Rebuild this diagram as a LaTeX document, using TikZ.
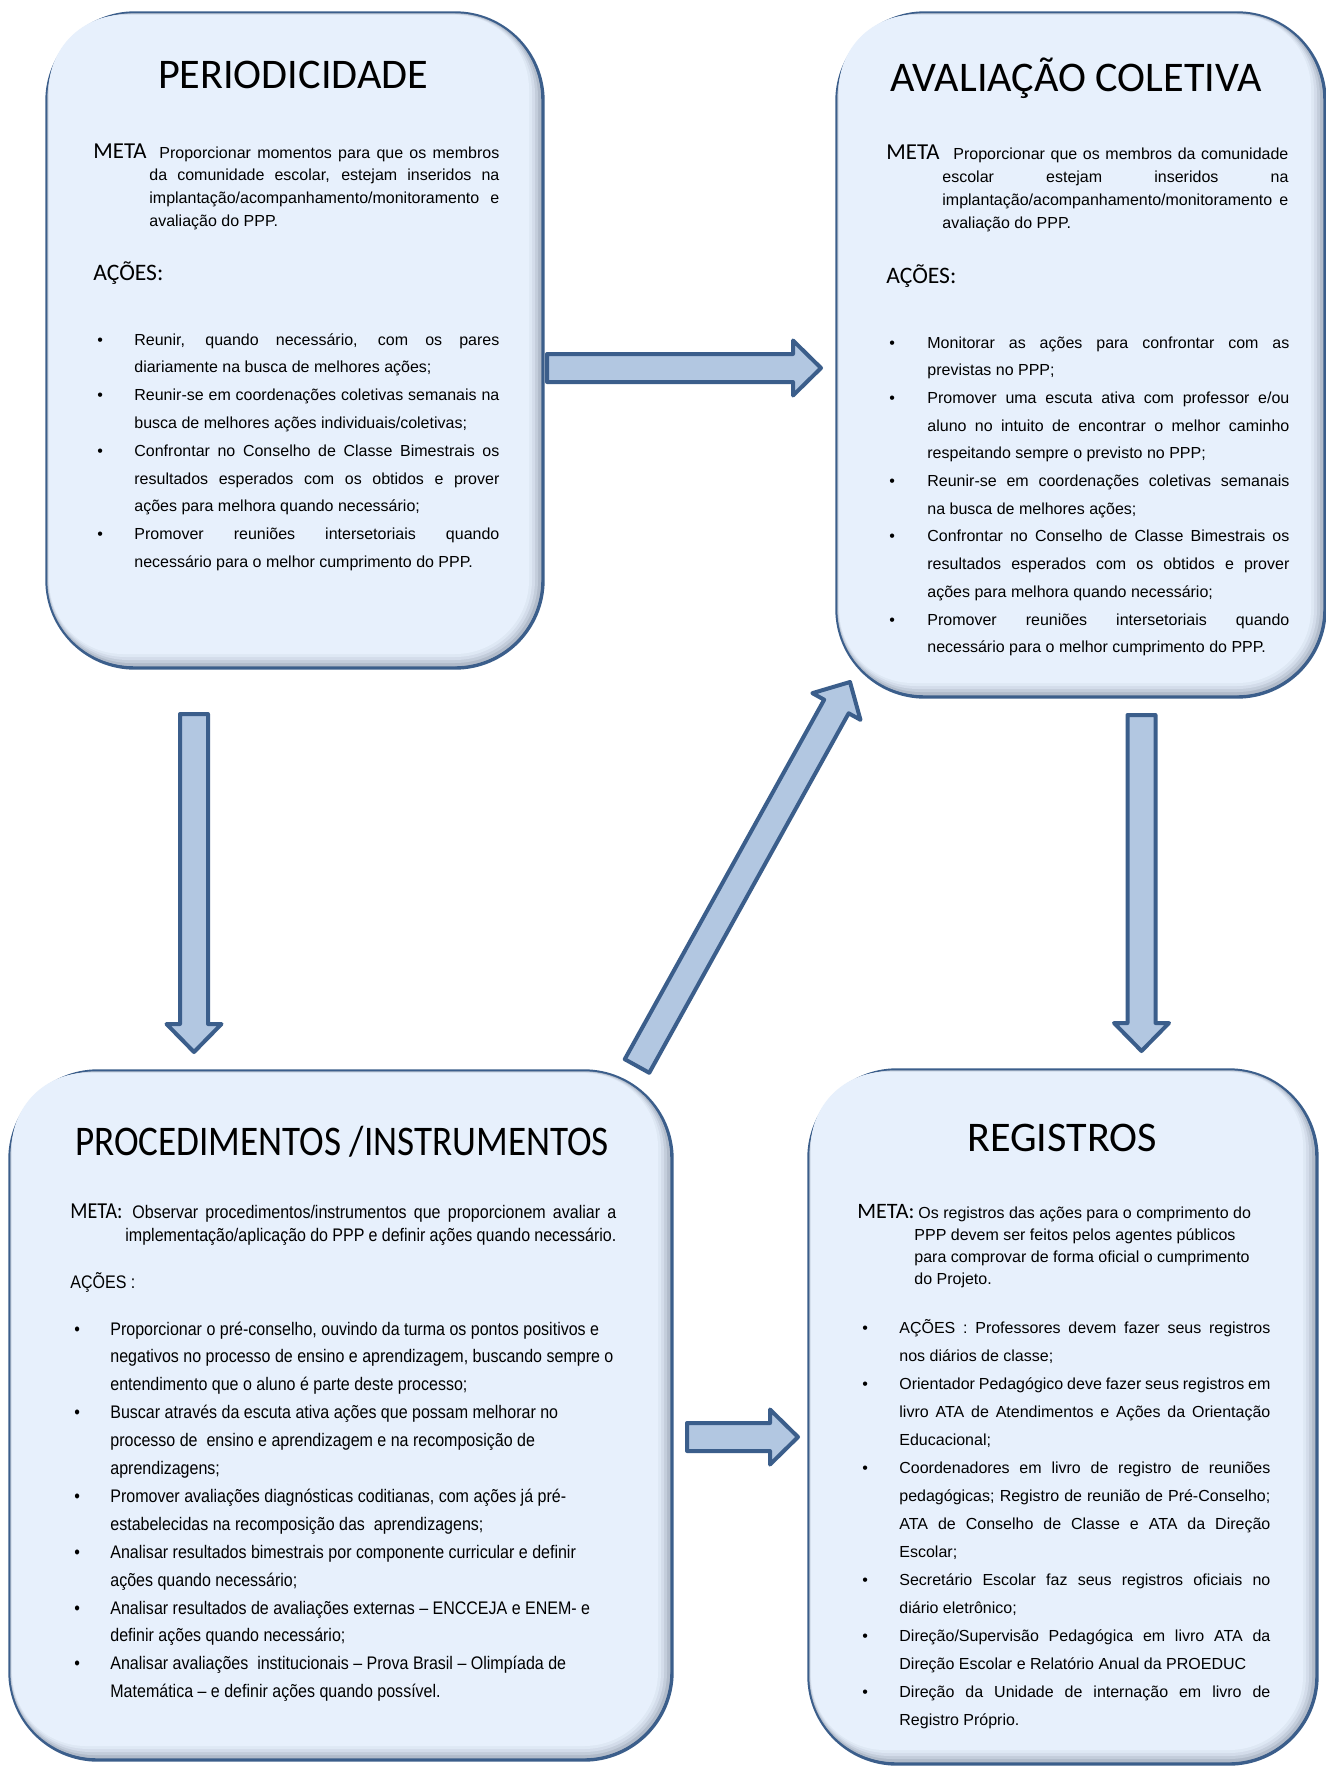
\documentclass[tikz,border=0pt]{standalone}
\usepackage{fontspec}
\setmainfont{Liberation Sans}
\newfontfamily\calib{Carlito}
\newfontfamily\calibnarrow[FakeStretch=0.88]{Carlito}
\newfontfamily\arialnarrow[FakeStretch=0.88]{Liberation Sans}
\usetikzlibrary{calc}

\definecolor{boxline}{HTML}{3B5E8B}
\definecolor{boxfill}{HTML}{E7F0FC}
\definecolor{boxshade}{HTML}{9FAABA}
\definecolor{arrowfill}{HTML}{B2C7E1}

\tolerance=10000
\hbadness=10000
\hfuzz=20pt
\hyphenpenalty=10000

\newlength\bulind
\newcommand\bitem{\par\noindent\hangindent=\bulind\hangafter=1\makebox[\bulind][l]{\textbullet}}
\newcommand\tightsp{\spaceskip=.278em plus .6em minus .12em\relax}

% inner shadow of a box
\newcommand\bevel[1]{%
  \foreach \k/\c/\r in {2/25/43pt,5/50/41.5pt,8/72/40pt,11/88/38.5pt,14/100/37pt}{%
    \fill[boxfill!\c!boxshade, rounded corners=\r]
      ($(#1.north west)+(0.15*\k,0.15*\k)$) rectangle ($(#1.south east)-(\k,\k)$);}}

% block arrow from #1 to #2
\newcommand\blockarrow[2]{%
  \coordinate (ba) at ($(#2)!14pt!(#1)$);
  \filldraw[arrowbody] ($(#1)!7pt!90:(#2)$) -- ($(ba)!7pt!-90:(#1)$)
    -- ($(ba)!13.75pt!-90:(#1)$) -- (#2) -- ($(ba)!13.75pt!90:(#1)$)
    -- ($(ba)!7pt!90:(#1)$) -- ($(#1)!7pt!-90:(#2)$) -- cycle;}

\begin{document}
\begin{tikzpicture}[x=0.5pt,y=-0.5pt,
  box/.style={draw=boxline, line width=1.7pt, fill=boxshade, rounded corners=44pt, inner sep=0pt, outer sep=0pt},
  title/.style={anchor=base, inner sep=0pt, font=\calib\fontsize{21.1}{21.1}\selectfont},
  txt/.style={anchor=base west, inner sep=0pt},
  arrowbody/.style={fill=arrowfill, draw=boxline, line width=2pt, line join=round}]

\fill[white] (0,0) rectangle (1326,1766);
\useasboundingbox (0,0) rectangle (1326,1766);

% boxes
\node[box, minimum width=248pt, minimum height=327.5pt] (peri) at (295,340.5) {};
\node[box, minimum width=244pt, minimum height=342pt] (aval) at (1081,355) {};
\node[box, minimum width=331pt, minimum height=344.5pt] (proc) at (341,1415.5) {};
\node[box, minimum width=254pt, minimum height=347pt] (regi) at (1063,1417) {};
\foreach \b in {peri,aval,proc,regi} {\bevel{\b}}

% arrows
\coordinate (a1) at ($(peri.east)+(4,27.5)$);
\coordinate (a2) at ($(aval.west)+(-16,13)$);
\coordinate (b1) at ($(peri.south)+(-101,46)$);
\coordinate (b2) at ($(proc.north)+(-147,-19)$);
\coordinate (c1) at ($(aval.south)+(60.5,18)$);
\coordinate (c2) at ($(regi.north)+(78.5,-19)$);
\coordinate (d1) at ($(proc.north east)+(-35,-5)$);
\coordinate (d2) at ($(aval.south west)+(13,-15)$);
\coordinate (e1) at ($(proc.east)+(15,21.5)$);
\coordinate (e2) at ($(regi.west)+(-11,20)$);
\blockarrow{a1}{a2}
\blockarrow{b1}{b2}
\blockarrow{c1}{c2}
\blockarrow{d1}{d2}
\blockarrow{e1}{e2}

% PERIODICIDADE
\node[title] (t1) at (293,89) {PERIODICIDADE};
\node[txt] (m1) at (93,158) {\parbox[t]{203pt}{\fontsize{8}{11.4}\selectfont\tightsp
\noindent\hangindent=28pt\hangafter=1\makebox[33pt][l]{\calib\fontsize{11.4}{11}\selectfont META}Proporcionar momentos para que os membros\linebreak
da comunidade escolar, estejam inseridos na\linebreak
implantação/acompanhamento/monitoramento e\linebreak
avaliação do PPP.\par}};
\node[txt, font=\calib\fontsize{11.8}{12}\selectfont] (ac1) at (93,280) {AÇÕES:};
\node[txt] (l1) at (97,345) {\parbox[t]{201pt}{\fontsize{8}{13.9}\selectfont\tightsp\setlength\bulind{18.5pt}%
\bitem Reunir, quando necessário, com os pares\linebreak diariamente na busca de melhores ações;
\bitem Reunir-se em coordenações coletivas semanais na\linebreak busca de melhores ações individuais/coletivas;
\bitem Confrontar no Conselho de Classe Bimestrais os\linebreak resultados esperados com os obtidos e prover\linebreak ações para melhora quando necessário;
\bitem Promover reuniões intersetoriais quando\linebreak necessário para o melhor cumprimento do PPP.\par}};

% AVALIACAO COLETIVA
\node[title] (t2) at (1076,92) {AVALIAÇÃO COLETIVA};
\node[txt] (m2) at (886,160) {\parbox[t]{201pt}{\fontsize{8}{11.4}\selectfont\tightsp
\noindent\hangindent=28pt\hangafter=1\makebox[33.5pt][l]{\calib\fontsize{11.4}{11}\selectfont META}Proporcionar que os membros da comunidade\linebreak
escolar estejam inseridos na\linebreak
implantação/acompanhamento/monitoramento e\linebreak
avaliação do PPP.\par}};
\node[txt, font=\calib\fontsize{11.8}{12}\selectfont] (ac2) at (886,283) {AÇÕES:};
\node[txt] (l2) at (889,348) {\parbox[t]{200pt}{\fontsize{8}{13.85}\selectfont\tightsp\setlength\bulind{19pt}%
\bitem Monitorar as ações para confrontar com as\linebreak previstas no PPP;
\bitem Promover uma escuta ativa com professor e/ou\linebreak aluno no intuito de encontrar o melhor caminho\linebreak respeitando sempre o previsto no PPP;
\bitem Reunir-se em coordenações coletivas semanais\linebreak na busca de melhores ações;
\bitem Confrontar no Conselho de Classe Bimestrais os\linebreak resultados esperados com os obtidos e prover\linebreak ações para melhora quando necessário;
\bitem Promover reuniões intersetoriais quando\linebreak necessário para o melhor cumprimento do PPP.\par}};

% PROCEDIMENTOS
\node[title, font=\calibnarrow\fontsize{21.1}{21.1}\selectfont] (t3) at (342,1155) {PROCEDIMENTOS /INSTRUMENTOS};
\node[txt] (m3) at (70,1218) {\parbox[t]{273pt}{\arialnarrow\fontsize{9.1}{11.5}\selectfont\tightsp
\noindent\hangindent=27.5pt\hangafter=1\makebox[31pt][l]{\calibnarrow\fontsize{11.4}{11}\selectfont META:}Observar procedimentos/instrumentos que proporcionem avaliar a\linebreak
implementação/aplicação do PPP e definir ações quando necessário.\par}};
\node[txt, font=\arialnarrow\fontsize{9.1}{11}\selectfont] (ac3) at (70,1288) {AÇÕES :};
\node[txt] (l3) at (74,1335) {\parbox[t]{290pt}{\arialnarrow\fontsize{9.1}{13.95}\selectfont\raggedright\setlength\bulind{18pt}%
\bitem Proporcionar o pré-conselho, ouvindo da turma os pontos positivos e\newline negativos no processo de ensino e aprendizagem, buscando sempre o\newline entendimento que o aluno é parte deste processo;
\bitem Buscar através da escuta ativa ações que possam melhorar no\newline processo de\ \ ensino e aprendizagem e na recomposição de\newline aprendizagens;
\bitem Promover avaliações diagnósticas coditianas, com ações já pré-\newline estabelecidas na recomposição das\ \ aprendizagens;
\bitem Analisar resultados bimestrais por componente curricular e definir\newline ações quando necessário;
\bitem Analisar resultados de avaliações externas – ENCCEJA e ENEM- e\newline definir ações quando necessário;
\bitem Analisar avaliações\ \ institucionais – Prova Brasil – Olimpíada de\newline Matemática – e definir ações quando possível.\par}};

% REGISTROS
\node[title] (t4) at (1062,1151) {REGISTROS};
\node[txt] (m4) at (857,1218) {\parbox[t]{210pt}{\fontsize{8}{11}\selectfont\raggedright
\noindent\hangindent=28.5pt\hangafter=1\makebox[30.5pt][l]{\calib\fontsize{11}{11}\selectfont META:}Os registros das ações para o comprimento do\newline
PPP devem ser feitos pelos agentes públicos\newline
para comprovar de forma oficial o cumprimento\newline
do Projeto.\par}};
\node[txt] (l4) at (862,1333) {\parbox[t]{204pt}{\fontsize{8}{14}\selectfont\tightsp\setlength\bulind{18.5pt}%
\bitem AÇÕES : Professores devem fazer seus registros\linebreak nos diários de classe;
\bitem Orientador Pedagógico deve fazer seus registros em\linebreak livro ATA de Atendimentos e Ações da Orientação\linebreak Educacional;
\bitem Coordenadores em livro de registro de reuniões\linebreak pedagógicas; Registro de reunião de Pré-Conselho;\linebreak ATA de Conselho de Classe e ATA da Direção\linebreak Escolar;
\bitem Secretário Escolar faz seus registros oficiais no\linebreak diário eletrônico;
\bitem Direção/Supervisão Pedagógica em livro ATA da\linebreak Direção Escolar e Relatório Anual da PROEDUC
\bitem Direção da Unidade de internação em livro de\linebreak Registro Próprio.\par}};
\end{tikzpicture}
\end{document}
